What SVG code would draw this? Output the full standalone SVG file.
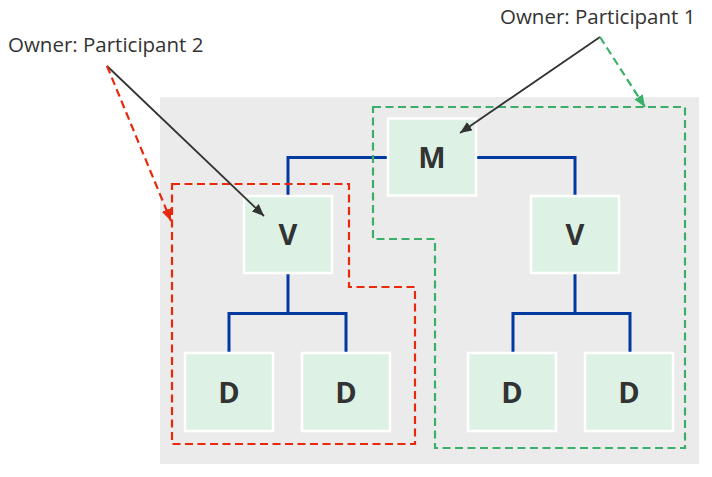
<svg xmlns="http://www.w3.org/2000/svg" width="712" height="477" viewBox="0 0 712 477">
  <style>
    .bg { fill: #EBEBEB; }
    .node rect { fill: #DDF2E5; stroke: #FFFFFF; stroke-width: 2.5; }
    .node text { font-family: "Open Sans", "Liberation Sans", sans-serif; font-weight: 700; font-size: 29px; fill: #333333; text-anchor: middle; }
    .label { font-family: "Open Sans", "Liberation Sans", sans-serif; font-size: 20.5px; fill: #333333; }
    .tree { fill: none; stroke: #0039A0; stroke-width: 3; }
    .red { fill: none; stroke: #E8290B; stroke-width: 2.2; stroke-dasharray: 8 4.5; }
    .green { fill: none; stroke: #3BAF68; stroke-width: 2.2; stroke-dasharray: 8 4.5; }
    .ptr { fill: none; stroke: #333333; stroke-width: 1.8; }
  </style>
  <defs>
    <marker id="ahBlack" viewBox="0 0 12 10" refX="12" refY="5" markerWidth="12" markerHeight="10" markerUnits="userSpaceOnUse" orient="auto">
      <path d="M0,0 L12,5 L0,10 z" fill="#333333"/>
    </marker>
    <marker id="ahRed" viewBox="0 0 12 10" refX="12" refY="5" markerWidth="12" markerHeight="10" markerUnits="userSpaceOnUse" orient="auto">
      <path d="M0,0 L12,5 L0,10 z" fill="#E8290B"/>
    </marker>
    <marker id="ahGreen" viewBox="0 0 12 10" refX="12" refY="5" markerWidth="12" markerHeight="10" markerUnits="userSpaceOnUse" orient="auto">
      <path d="M0,0 L12,5 L0,10 z" fill="#3BAF68"/>
    </marker>
  </defs>

  <rect class="bg" x="160" y="97" width="539" height="367"/>

  <g id="connectors">
    <path class="tree" d="M387,157.5 H288 V196"/>
    <path class="tree" d="M476,157.5 H575 V196"/>
    <path class="tree" d="M288,273 V313.5 M229,352 V313.5 H346 V352"/>
    <path class="tree" d="M575,273 V313.5 M513,352 V313.5 H630 V352"/>
  </g>

  <g id="node-M" class="node"><rect x="388" y="118.5" width="88" height="77"/><text x="432" y="167.5">M</text></g>
  <g id="node-V1" class="node"><rect x="244" y="196" width="88" height="77"/><text x="288" y="245">V</text></g>
  <g id="node-V2" class="node"><rect x="531" y="196" width="88" height="77"/><text x="575" y="245">V</text></g>
  <g id="node-D1" class="node"><rect x="185" y="353" width="88" height="78"/><text x="229" y="402.5">D</text></g>
  <g id="node-D2" class="node"><rect x="302" y="353" width="88" height="78"/><text x="346" y="402.5">D</text></g>
  <g id="node-D3" class="node"><rect x="468" y="353" width="88" height="78"/><text x="512" y="402.5">D</text></g>
  <g id="node-D4" class="node"><rect x="585" y="353" width="88" height="78"/><text x="629" y="402.5">D</text></g>

  <g id="regions">
    <path class="red" d="M172,184 H349 V287 H415 V444 H172 Z"/>
    <path class="green" d="M373,107 H685 V448 H435 V239 H373 Z"/>
  </g>

  <g id="pointers">
    <line class="ptr" x1="107" y1="66" x2="264" y2="216" marker-end="url(#ahBlack)"/>
    <line class="red" x1="107" y1="66" x2="171" y2="221" marker-end="url(#ahRed)"/>
    <line class="ptr" x1="600" y1="37" x2="460" y2="133" marker-end="url(#ahBlack)"/>
    <line class="green" x1="600" y1="37" x2="645" y2="107" marker-end="url(#ahGreen)"/>
  </g>

  <g id="labels">
    <text class="label" x="8" y="52">Owner: Participant 2</text>
    <text class="label" x="500" y="24">Owner: Participant 1</text>
  </g>
</svg>
